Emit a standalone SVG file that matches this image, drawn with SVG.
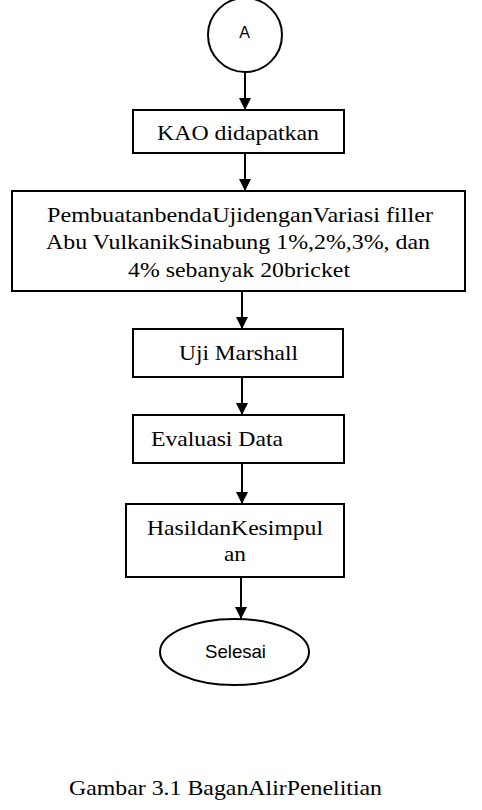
<svg xmlns="http://www.w3.org/2000/svg" width="482" height="810" viewBox="0 0 482 810">
<style>
.box{fill:#fff;stroke:#000;stroke-width:2}
.t{font-family:"Liberation Serif","Times New Roman",serif;font-size:21px;fill:#000}
.s{font-family:"Liberation Sans",Arial,sans-serif;fill:#000}
.c{stroke:#000;stroke-width:2;fill:none;marker-end:url(#ah)}
</style>
<defs>
<marker id="ah" markerUnits="userSpaceOnUse" markerWidth="12" markerHeight="12" viewBox="0 0 12 12" refX="12" refY="6" orient="auto">
<path d="M0,0 L12,6 L0,12 Z" fill="#000"/>
</marker>
</defs>
<rect width="482" height="810" fill="#fff"/>
<g id="connectors">
<line class="c" x1="245" y1="72" x2="245" y2="110"/>
<line class="c" x1="245" y1="153" x2="245" y2="191"/>
<line class="c" x1="242" y1="291" x2="242" y2="329"/>
<line class="c" x1="242" y1="377" x2="242" y2="415"/>
<line class="c" x1="242" y1="463" x2="242" y2="504"/>
<line class="c" x1="241" y1="577" x2="241" y2="619"/>
</g>
<g id="nodeA">
<circle cx="245" cy="35" r="37" fill="#fff" stroke="#000" stroke-width="2"/>
<text class="s" x="244.5" y="37.5" font-size="16" text-anchor="middle">A</text>
</g>
<g id="kao">
<rect class="box" x="133" y="110" width="211" height="43"/>
<text class="t" x="157" y="140" textLength="162" lengthAdjust="spacingAndGlyphs">KAO didapatkan</text>
</g>
<g id="pembuatan">
<rect class="box" x="12" y="191" width="453" height="100"/>
<text class="t" x="47" y="222" textLength="386" lengthAdjust="spacingAndGlyphs">PembuatanbendaUjidenganVariasi filler</text>
<text class="t" x="46" y="249" textLength="384" lengthAdjust="spacingAndGlyphs">Abu VulkanikSinabung 1%,2%,3%, dan</text>
<text class="t" x="128" y="277" textLength="222" lengthAdjust="spacingAndGlyphs">4% sebanyak 20bricket</text>
</g>
<g id="uji">
<rect class="box" x="133" y="329" width="210" height="48"/>
<text class="t" x="179" y="360" textLength="119" lengthAdjust="spacingAndGlyphs">Uji Marshall</text>
</g>
<g id="evaluasi">
<rect class="box" x="133" y="415" width="211" height="48"/>
<text class="t" x="151" y="446" textLength="132" lengthAdjust="spacingAndGlyphs">Evaluasi Data</text>
</g>
<g id="hasil">
<rect class="box" x="126" y="504" width="218" height="73"/>
<text class="t" x="147" y="535" textLength="176" lengthAdjust="spacingAndGlyphs">HasildanKesimpul</text>
<text class="t" x="224" y="561" textLength="22" lengthAdjust="spacingAndGlyphs">an</text>
</g>
<g id="selesai">
<ellipse cx="234.5" cy="652" rx="74.5" ry="33" fill="#fff" stroke="#000" stroke-width="2"/>
<text class="s" x="205" y="658" font-size="19" textLength="61" lengthAdjust="spacingAndGlyphs">Selesai</text>
</g>
<text class="t" x="69" y="795" textLength="313" lengthAdjust="spacingAndGlyphs">Gambar 3.1 BaganAlirPenelitian</text>
</svg>
